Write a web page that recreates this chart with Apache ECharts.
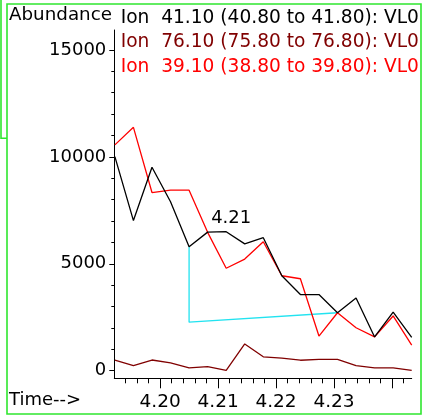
<!DOCTYPE html>
<html>
<head>
<meta charset="utf-8">
<script src="https://cdn.jsdelivr.net/npm/echarts@6/dist/echarts.min.js"></script>
<style>
  html, body { margin: 0; padding: 0; background: #fff; }
  #main { width: 425px; height: 417px; }
</style>
</head>
<body>
<div id="main"></div>
<script>
// Retention time (min) of each scan
const times = [4.1922, 4.1954, 4.1986, 4.2018, 4.2050, 4.2082, 4.2114, 4.2146, 4.2178,
               4.2210, 4.2242, 4.2274, 4.2306, 4.2338, 4.2370, 4.2402, 4.2434];
// Extracted ion abundances
const ion41 = [10010, 7020, 9510, 7900, 5800, 6480, 6500, 5930, 6220,
               4440, 3560, 3560, 2710, 3400, 1580, 2740, 1560];
const ion76 = [500, 240, 500, 370, 130, 190, 20, 1250, 650,
               590, 490, 530, 530, 240, 130, 130, 20];
const ion39 = [10560, 11380, 8330, 8440, 8440, 6470, 4790, 5220, 6030,
               4440, 4300, 1620, 2710, 2010, 1580, 2560, 1200];
// Integration baseline of the labelled peak
const baseTimes = [4.2050, 4.2050, 4.2306];
const baseValues = [5800, 2270, 2710];
const apexIndex = 6;

// Series names
const ionNames = [
  'Ion  41.10 (40.80 to 41.80): VL0',
  'Ion  76.10 (75.80 to 76.80): VL0',
  'Ion  39.10 (38.80 to 39.80): VL0'
];
const ionColors = ['#000000', '#800000', '#ff0000'];

// Axis ticks and labels
const xLabelValues = [4.20, 4.21, 4.22, 4.23];
const xMajorTicks = [4.20, 4.21, 4.22, 4.23, 4.24];
const xMinorTicks = [4.194, 4.196, 4.198, 4.202, 4.204, 4.206, 4.208, 4.212, 4.214, 4.216, 4.218,
                     4.222, 4.224, 4.226, 4.228, 4.232, 4.234, 4.236, 4.238, 4.242];
const yLabelValues = [0, 5000, 10000, 15000];
const yMinorTicks = [1000, 2000, 3000, 4000, 6000, 7000, 8000, 9000, 11000, 12000, 13000, 14000];

const FONT = 'DejaVu Sans';
const X_MIN = 4.1921, X_MAX = 4.2434;
const Y_MIN = -355, Y_MAX = 15930;

const pairs = (xs, ys) => xs.map((x, i) => [x, ys[i]]);

const chart = echarts.init(document.getElementById('main'), null, { renderer: 'canvas' });

const blackData = pairs(times, ion41).map((p, i) => i === apexIndex ? {
  value: p,
  label: {
    show: true,
    position: 'top',
    distance: 4,
    offset: [5, 0],
    formatter: (d) => d.value[0].toFixed(2),
    color: '#000',
    fontFamily: FONT,
    fontSize: 18,
    lineHeight: 18
  }
} : p);

const lineBase = {
  type: 'line',
  showSymbol: true,
  symbol: 'circle',
  symbolSize: 0,
  silent: true,
  z: 2
};

chart.setOption({
  animation: false,
  backgroundColor: '#ffffff',
  grid: { left: 114.3, top: 30, width: 297.4, height: 348.3 },
  legend: {
    orient: 'vertical',
    left: 115.7,
    top: 5.75,
    padding: 0,
    itemGap: 0,
    itemWidth: 0,
    itemHeight: 0,
    icon: 'none',
    selectedMode: false,
    textStyle: { fontFamily: FONT, fontSize: 18.6, lineHeight: 24.5 },
    data: ionNames.map((n, i) => ({ name: n, textStyle: { color: ionColors[i] } }))
  },
  xAxis: [
    {
      type: 'value', min: X_MIN, max: X_MAX,
      axisLine: { onZero: false, lineStyle: { color: '#000', width: 1 } },
      splitLine: { show: false },
      axisTick: { customValues: xMajorTicks, length: 10, lineStyle: { color: '#000' } },
      axisLabel: {
        customValues: xLabelValues, formatter: (v) => v.toFixed(2),
        margin: 15, color: '#000', fontFamily: FONT, fontSize: 18.5, lineHeight: 18
      }
    },
    {
      type: 'value', min: X_MIN, max: X_MAX, position: 'bottom',
      axisLine: { show: false, onZero: false },
      splitLine: { show: false },
      axisLabel: { show: false },
      axisTick: { customValues: xMinorTicks, length: 5, lineStyle: { color: '#000' } }
    }
  ],
  yAxis: [
    {
      type: 'value', min: Y_MIN, max: Y_MAX,
      axisLine: { show: true, onZero: false, lineStyle: { color: '#000', width: 1 } },
      splitLine: { show: false },
      axisTick: { show: true, customValues: yLabelValues, length: 5, lineStyle: { color: '#000' } },
      axisLabel: {
        customValues: yLabelValues, formatter: (v) => String(v), margin: 8, color: '#000',
        fontFamily: FONT, fontSize: 18, lineHeight: 18
      }
    },
    {
      type: 'value', min: Y_MIN, max: Y_MAX, position: 'left',
      axisLine: { show: false, onZero: false },
      splitLine: { show: false },
      axisLabel: { show: false },
      axisTick: { show: true, customValues: yMinorTicks, length: 3, lineStyle: { color: '#000' } }
    }
  ],
  graphic: [
    {
      type: 'rect', silent: true, z: 100,
      shape: { x: 7, y: 4, width: 414, height: 410 },
      style: { fill: 'none', stroke: '#2fe62f', lineWidth: 1.6 }
    },
    {
      type: 'polyline', silent: true, z: 100,
      shape: { points: [[1, 0], [1, 138.3], [7, 138.3]] },
      style: { fill: 'none', stroke: '#2fe62f', lineWidth: 1.6 }
    },
    {
      type: 'text', silent: true,
      style: { x: 9, y: 15.7, text: 'Abundance', fill: '#000',
               font: '18.3px "DejaVu Sans"', align: 'left', verticalAlign: 'middle' }
    },
    {
      type: 'text', silent: true,
      style: { x: 9, y: 400.8, text: 'Time-->', fill: '#000',
               font: '18px "DejaVu Sans"', align: 'left', verticalAlign: 'middle' }
    }
  ],
  series: [
    Object.assign({}, lineBase, {
      name: 'baseline', data: pairs(baseTimes, baseValues),
      lineStyle: { color: '#22e3f0', width: 1.3 }, itemStyle: { color: '#22e3f0' }, z: 1
    }),
    Object.assign({}, lineBase, {
      name: ionNames[1], data: pairs(times, ion76),
      lineStyle: { color: ionColors[1], width: 1.3 }, itemStyle: { color: ionColors[1] }
    }),
    Object.assign({}, lineBase, {
      name: ionNames[2], data: pairs(times, ion39),
      lineStyle: { color: ionColors[2], width: 1.3 }, itemStyle: { color: ionColors[2] }
    }),
    Object.assign({}, lineBase, {
      name: ionNames[0], data: blackData,
      lineStyle: { color: ionColors[0], width: 1.3 }, itemStyle: { color: ionColors[0] }
    })
  ]
});
</script>
</body>
</html>
